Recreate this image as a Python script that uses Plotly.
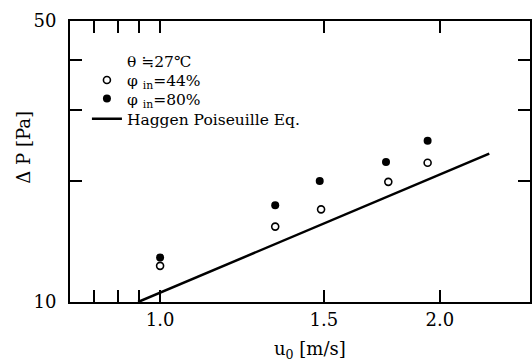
import plotly.graph_objects as go
import numpy as np

# data
u_44 = [1.0, 1.33, 1.49, 1.76, 1.94]
dp_44 = [12.3, 15.4, 17.0, 19.9, 22.2]
u_80 = [1.0, 1.33, 1.485, 1.75, 1.94]
dp_80 = [12.9, 17.4, 20.0, 22.3, 25.2]
u_hp = [0.947, 2.26]
dp_hp = [10.0, 23.4]

x_tickvals = [0.85, 0.9, 0.95, 1.0, 1.5, 2.0]
x_ticktext = ["", "", "", "1.0", "1.5", "2.0"]
y_tickvals = [10, 20, 30, 40, 50]
y_ticktext = ["10", "", "", "", "50"]

FONT = "DejaVu Serif"

fig = go.Figure()
fig.add_trace(go.Scatter(x=[None], y=[None], mode="lines", line=dict(width=0, color="white"),
                         name="θ ≒27℃", showlegend=True, legend="legend"))
fig.add_trace(go.Scatter(x=u_44, y=dp_44, mode="markers", name="φ <sub>in</sub>=44%",
                         legend="legend2",
                         marker=dict(symbol="circle-open", size=7, color="black", line=dict(width=1.6))))
fig.add_trace(go.Scatter(x=u_80, y=dp_80, mode="markers", name="φ <sub>in</sub>=80%",
                         legend="legend3",
                         marker=dict(symbol="circle", size=8, color="black")))
fig.add_trace(go.Scatter(x=u_hp, y=dp_hp, mode="lines", name="Haggen Poiseuille Eq.",
                         legend="legend4",
                         line=dict(color="black", width=2.5)))

axis_common = dict(showline=True, linewidth=2, linecolor="black", mirror="allticks",
                   ticks="inside", ticklen=12, tickwidth=1.5, tickcolor="black",
                   showgrid=False, zeroline=False,
                   tickfont=dict(family=FONT, size=18, color="black"))

fig.update_xaxes(type="log", range=[np.log10(0.8), np.log10(2.5)],
                 tickmode="array", tickvals=x_tickvals, ticktext=x_ticktext,
                 ticklabelstandoff=0, **axis_common)
fig.update_yaxes(type="log", range=[1, np.log10(50)],
                 tickmode="array", tickvals=y_tickvals, ticktext=y_ticktext,
                 ticklabelstandoff=8, **axis_common)

fig.add_annotation(text="Δ P [Pa]", xref="paper", yref="paper", x=-0.1017, y=0.55,
                   textangle=-90, showarrow=False, xanchor="center", yanchor="middle",
                   font=dict(family=FONT, size=18, color="black"))
fig.add_annotation(text="u<sub>0</sub> [m/s]", xref="paper", yref="paper", x=0.5216, y=-0.1708,
                   showarrow=False, xanchor="center", yanchor="middle",
                   font=dict(family=FONT, size=18, color="black"))

leg_common = dict(xanchor="left", yanchor="top", bgcolor="rgba(0,0,0,0)", borderwidth=0,
                  font=dict(family=FONT, size=15.5, color="black"))
legend_x = 0.0368
fig.update_layout(
    width=532, height=361,
    margin=dict(l=70, r=0, t=21, b=59),
    plot_bgcolor="white", paper_bgcolor="white",
    showlegend=True,
    legend=dict(x=legend_x, y=0.918, **leg_common),
    legend2=dict(x=legend_x, y=0.849, **leg_common),
    legend3=dict(x=legend_x, y=0.783, **leg_common),
    legend4=dict(x=legend_x, y=0.711, **leg_common),
)

fig.write_html("out.html")
